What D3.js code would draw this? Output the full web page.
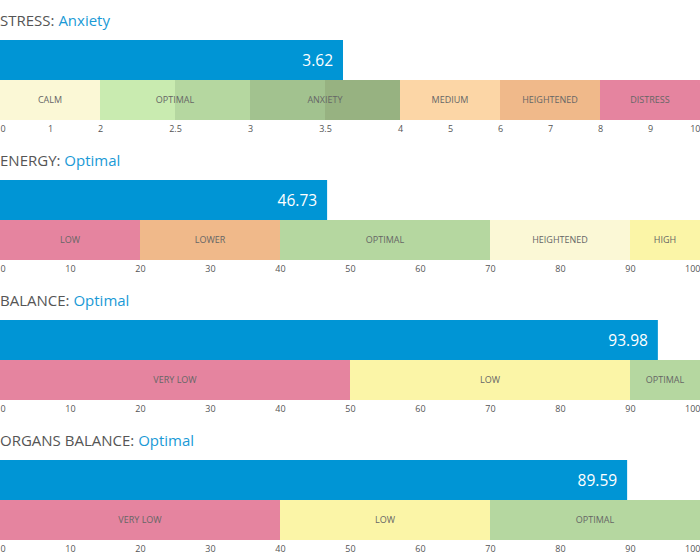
<!DOCTYPE html>
<html><head><meta charset="utf-8">
<script src="https://cdn.jsdelivr.net/npm/d3@7"></script>
<style>body{margin:0;background:#fff;font-family:"Open Sans",sans-serif;}</style>
</head><body><svg id="c" width="700" height="560"></svg>
<script>
// ---- data ----
const titles = ["STRESS", "ENERGY", "BALANCE", "ORGANS BALANCE"];
const statuses = ["Anxiety", "Optimal", "Optimal", "Optimal"];
const values = [3.62, 46.73, 93.98, 89.59];

const stressDomain = [0, 2, 4, 10];          // piecewise scale breakpoints
const stressTicks = [0, 1, 2, 2.5, 3, 3.5, 4, 5, 6, 7, 8, 9, 10];
const pctTicks = [0, 10, 20, 30, 40, 50, 60, 70, 80, 90, 100];

// bands: [from, to, colour]
const stressBands = [[0,2,"#fbf8d6"],[2,2.5,"#c9ebb0"],[2.5,3,"#b5d7a0"],[3,3.5,"#a2c28f"],[3.5,4,"#97b281"],[4,6,"#fcd6a6"],[6,8,"#f0b98a"],[8,10,"#e5849f"]];
const stressLabels = [[0,2,"CALM"],[2,3,"OPTIMAL"],[3,4,"ANXIETY"],[4,6,"MEDIUM"],[6,8,"HEIGHTENED"],[8,10,"DISTRESS"]];

const energyBands = [[0,20,"#e5849f"],[20,40,"#f0b98a"],[40,70,"#b5d7a0"],[70,90,"#fbf8d6"],[90,100,"#fbf5a7"]];
const energyLabels = [[0,20,"LOW"],[20,40,"LOWER"],[40,70,"OPTIMAL"],[70,90,"HEIGHTENED"],[90,100,"HIGH"]];

const balanceBands = [[0,50,"#e5849f"],[50,90,"#fbf5a7"],[90,100,"#b5d7a0"]];
const balanceLabels = [[0,50,"VERY LOW"],[50,90,"LOW"],[90,100,"OPTIMAL"]];

const organsBands = [[0,40,"#e5849f"],[40,70,"#fbf5a7"],[70,100,"#b5d7a0"]];
const organsLabels = [[0,40,"VERY LOW"],[40,70,"LOW"],[70,100,"OPTIMAL"]];

// ---- drawing ----
const W = 700, panelH = 140;
const svg = d3.select("#c");

const scales = [
  d3.scaleLinear().domain(stressDomain).range([0, 100, 400, W]),
  d3.scaleLinear().domain([0,100]).range([0, W]),
  d3.scaleLinear().domain([0,100]).range([0, W]),
  d3.scaleLinear().domain([0,100]).range([0, W])
];
const bandsAll = [stressBands, energyBands, balanceBands, organsBands];
const labelsAll = [stressLabels, energyLabels, balanceLabels, organsLabels];
const ticksAll = [stressTicks, pctTicks, pctTicks, pctTicks];

titles.forEach((t, i) => {
  const x = scales[i];
  const g = svg.append("g").attr("transform", `translate(0,${i*panelH})`);
  const title = g.append("text").attr("x", 0).attr("y", 26)
    .attr("font-size", 15).attr("fill", "#555");
  title.append("tspan").text(t + ": ");
  title.append("tspan").attr("fill", "#1a9ad6").text(statuses[i]);

  g.append("rect").attr("x", x(0)).attr("y", 40)
    .attr("width", x(values[i]) - x(0)).attr("height", 40).attr("fill", "#0095d5");
  g.append("text").attr("x", x(values[i]) - 10).attr("y", 66)
    .attr("text-anchor", "end").attr("font-size", 15.5).attr("fill", "#fff")
    .text(values[i].toFixed(2));

  g.selectAll("rect.band").data(bandsAll[i]).join("rect").attr("class","band")
    .attr("x", d => x(d[0])).attr("y", 80)
    .attr("width", d => x(d[1]) - x(d[0])).attr("height", 40)
    .attr("fill", d => d[2]);
  g.selectAll("text.bl").data(labelsAll[i]).join("text").attr("class","bl")
    .attr("x", d => (x(d[0]) + x(d[1])) / 2).attr("y", 103)
    .attr("text-anchor", "middle").attr("font-size", 9).attr("fill", "#666")
    .text(d => d[2]);

  const ticks = ticksAll[i];
  const axis = d3.axisBottom(x).tickValues(ticks).tickSize(0).tickPadding(0)
    .tickFormat(d => String(d));
  const ag = g.append("g").attr("transform", "translate(0,126)").call(axis);
  ag.select(".domain").remove();
  ag.selectAll("text").attr("font-size", 9).attr("fill", "#555")
    .attr("font-family", "Open Sans, sans-serif")
    .attr("text-anchor", (d, j) => j === 0 ? "start" : (j === ticks.length - 1 ? "end" : "middle"));
});
</script></body></html>
